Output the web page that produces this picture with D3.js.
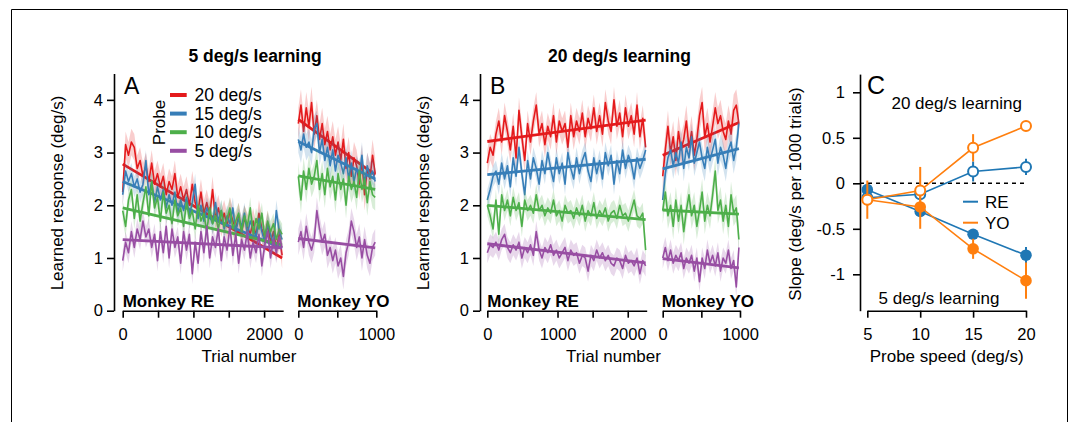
<!DOCTYPE html>
<html>
<head>
<meta charset="utf-8">
<script src="https://cdn.jsdelivr.net/npm/d3@7"></script>
<style>
  body { margin: 0; background: #fff; }
  svg { display: block; }
</style>
</head>
<body>
<svg id="fig" width="1078" height="422"></svg>
<script>
// ---------- Probe conditions ----------
const probeLabels = ["20 deg/s", "15 deg/s", "10 deg/s", "5 deg/s"];
const probeColors = ["#e41a1c", "#377eb8", "#4daf4a", "#984ea3"];

// Trial bins (start trial of each bin)
const trialsRE = d3.range(56).map(i => i * 41);
const trialsYO = d3.range(30).map(i => i * 34);

// ---------- A: 5 deg/s learning, learned response (deg/s) ----------
const redA_RE = [2.25,3.15,2.95,3.20,3.10,2.70,2.85,2.55,2.75,2.45,2.80,2.40,2.60,2.35,2.55,2.20,2.45,2.30,2.60,2.15,2.35,2.10,2.30,2.00,2.40,2.05,1.90,2.25,1.85,2.05,1.80,2.30,1.75,1.95,1.65,1.85,1.60,1.90,1.70,1.55,1.80,1.50,1.75,1.60,1.45,1.70,1.40,1.85,1.55,1.35,1.65,1.30,1.50,1.20,1.45,1.05];
const blueA_RE = [2.20,2.65,2.45,2.60,2.35,2.50,2.25,2.40,2.85,2.20,2.45,2.05,2.35,2.10,2.30,1.95,2.20,2.00,2.25,1.85,2.10,1.90,2.15,1.80,2.05,2.40,1.75,2.00,1.70,1.95,1.80,1.65,2.05,1.70,1.90,1.55,1.80,1.65,1.95,1.50,1.75,1.60,1.85,1.45,1.70,1.55,1.40,1.75,1.50,1.30,1.65,1.45,1.25,1.90,1.50,1.35];
const greenA_RE = [1.90,1.60,2.10,2.30,1.75,2.20,1.70,2.05,2.35,1.80,2.45,1.95,2.15,1.70,2.25,1.85,2.00,1.65,2.10,1.80,1.95,1.60,2.05,1.75,1.90,1.55,2.00,1.70,1.85,1.50,1.95,1.65,1.80,1.55,1.90,1.60,1.75,1.95,1.55,1.70,1.85,1.50,1.80,1.60,1.95,1.45,1.75,1.55,1.85,1.40,1.70,1.50,1.65,1.35,1.55,1.45];
const purpleA_RE = [0.95,1.30,1.10,1.50,1.20,1.55,1.35,1.70,1.40,1.55,1.20,1.45,0.95,1.50,1.10,1.60,1.00,1.55,1.20,1.40,0.90,1.50,1.15,1.45,0.70,1.30,0.90,1.50,1.10,1.60,1.00,1.40,1.20,1.55,0.95,1.40,1.15,1.60,1.05,1.45,0.90,1.35,1.15,1.50,1.00,1.30,1.10,1.45,0.85,1.25,1.50,1.00,1.35,1.10,1.40,1.20];
const redA_YO = [3.55,3.90,3.40,3.85,3.50,3.95,3.35,3.70,3.25,3.55,3.15,3.40,3.05,3.30,2.95,3.20,2.85,3.25,2.70,3.00,2.55,2.90,2.75,2.40,2.85,2.20,2.70,2.50,2.95,2.60];
const blueA_YO = [3.25,3.05,3.35,3.10,3.20,3.00,3.45,3.55,3.00,3.25,2.85,3.10,2.75,3.05,2.65,2.95,2.80,2.60,2.90,2.50,2.80,2.45,2.70,2.55,2.95,2.40,2.75,2.55,2.65,2.45];
const greenA_YO = [2.55,2.10,2.65,2.30,2.70,2.40,2.55,2.85,2.30,2.60,2.20,2.70,2.35,2.55,2.10,2.60,2.30,2.50,2.00,2.55,2.30,2.45,2.15,2.65,2.30,2.50,2.05,2.45,2.20,2.15];
const purpleA_YO = [1.30,1.50,1.20,1.60,1.30,1.15,1.35,1.90,1.55,1.30,1.45,1.05,1.20,0.95,1.15,0.85,1.00,0.65,1.10,1.30,1.70,1.50,1.20,1.40,1.00,1.35,1.05,0.90,1.20,1.30];
const semA_RE = [0.25, 0.20, 0.20, 0.20];
const semA_YO = [0.30, 0.25, 0.25, 0.25];
const fitStartA_RE = [2.78, 2.45, 1.95, 1.35];
const fitStartA_YO = [3.63, 3.21, 2.56, 1.37];

// ---------- B: 20 deg/s learning ----------
const redB_RE = [2.80,3.10,2.95,3.35,3.60,3.20,3.70,3.40,3.05,3.50,2.90,3.80,3.30,2.85,3.55,3.20,3.60,3.90,3.35,3.55,3.15,3.50,3.30,3.70,3.20,3.60,3.40,3.55,3.10,3.70,3.30,3.60,3.40,3.75,3.30,3.65,3.45,3.85,3.40,3.70,3.35,3.95,3.60,3.40,4.00,3.50,3.75,3.30,3.85,3.50,3.70,3.35,3.90,3.30,3.65,3.10];
const blueB_RE = [2.10,2.30,2.55,2.65,2.40,2.80,2.50,2.75,2.35,2.90,2.55,3.10,2.60,2.20,2.85,2.50,2.90,2.70,2.40,2.85,2.60,3.00,2.70,2.45,2.90,2.60,2.80,2.40,3.00,2.70,2.50,2.90,2.60,2.85,3.00,2.65,2.45,2.90,2.60,2.85,2.50,3.00,2.75,2.95,2.40,2.85,2.60,3.05,2.70,2.95,2.80,2.50,2.90,2.70,2.85,3.05];
const greenB_RE = [2.00,1.80,1.55,2.10,1.45,2.20,1.90,2.10,1.80,2.15,1.90,2.05,1.60,2.10,1.90,2.00,1.85,2.20,1.90,2.00,1.80,1.95,1.85,2.10,1.80,1.90,1.70,2.00,1.85,1.90,1.75,1.95,1.80,2.00,1.70,1.90,1.80,2.05,1.75,1.90,1.80,1.95,1.70,1.85,1.90,1.75,2.00,1.80,1.85,1.70,1.90,2.10,1.80,1.75,1.85,1.15];
const purpleB_RE = [1.10,1.25,1.20,1.30,1.15,1.35,1.45,1.20,1.10,1.25,1.15,1.30,1.00,1.20,1.10,1.25,1.05,1.50,1.15,1.00,1.20,1.10,1.25,1.05,1.15,1.00,1.10,1.20,0.95,1.15,1.05,1.10,0.90,1.05,1.00,0.75,1.05,0.95,1.15,1.00,1.10,0.95,1.05,0.90,0.85,1.00,0.95,0.80,1.05,0.90,0.95,0.85,1.00,0.70,0.95,0.85];
const redB_YO = [2.55,3.05,3.50,3.00,3.30,2.85,3.40,3.05,3.25,3.60,3.10,3.40,2.95,3.25,3.70,3.95,3.30,3.55,3.20,3.50,3.85,3.55,3.70,3.40,3.25,3.60,3.35,3.80,3.90,3.55];
const blueB_YO = [2.10,2.60,2.90,3.05,2.75,3.00,2.80,3.20,2.70,3.10,2.90,3.30,2.80,3.00,3.20,2.90,2.70,3.10,2.85,3.05,3.25,2.80,3.10,2.95,2.70,3.05,3.20,2.85,3.10,3.55];
const greenB_YO = [1.90,2.25,1.80,2.00,1.60,2.10,1.70,2.00,1.50,1.90,2.20,1.80,2.00,1.60,1.90,2.25,1.70,2.00,1.80,2.20,2.65,1.90,2.10,1.70,2.00,1.60,2.20,1.85,1.95,1.35];
const purpleB_YO = [1.00,1.20,0.95,1.15,0.90,1.05,0.95,1.10,0.80,1.00,0.90,1.05,0.75,1.00,0.55,1.00,0.80,1.15,0.90,1.05,0.85,1.10,0.75,1.00,0.90,1.15,0.80,0.95,0.45,1.20];
const semB_RE = [0.25, 0.20, 0.20, 0.20];
const semB_YO = [0.30, 0.25, 0.25, 0.20];
const fitStartB_RE = [3.21, 2.58, 2.00, 1.27];
const fitStartB_YO = [2.95, 2.69, 1.91, 0.99];

// ---------- C: slope of learned response (deg/s per 1000 trials) ----------
const probeSpeeds = [5, 10, 15, 20];
const slopeRE_5learn  = [-0.07, -0.31, -0.56, -0.79];
const errRE_5learn    = [0.05, 0.05, 0.05, 0.09];
const slopeYO_5learn  = [-0.18, -0.26, -0.72, -1.07];
const errYO_5learn    = [0.06, 0.24, 0.11, 0.20];
const slopeRE_20learn = [-0.16, -0.12, 0.13, 0.18];
const errRE_20learn   = [0.05, 0.05, 0.11, 0.09];
const slopeYO_20learn = [-0.18, -0.08, 0.39, 0.63];
const errYO_20learn   = [0.21, 0.26, 0.15, 0.05];
const monkeyLabels = ["RE", "YO"];
const monkeyColors = ["#1f77b4", "#ff7f0e"];

// ---------- drawing ----------
const FONT = "'Liberation Sans', Arial, Helvetica, sans-serif";
const svg = d3.select("#fig");

// frame
svg.append("path")
  .attr("d", "M11.5,422V9.5H1067.5V422")
  .attr("fill", "none").attr("stroke", "#000").attr("stroke-width", 1);

function styleAxis(g, fs) {
  g.attr("font-family", FONT).attr("font-size", fs);
  g.selectAll("path, line").attr("stroke", "#000").attr("stroke-width", 1.6);
  g.selectAll("text").attr("fill", "#000");
}

function addText(x, y, str, opts = {}) {
  const t = svg.append("text")
    .attr("x", x).attr("y", y)
    .attr("font-family", FONT)
    .attr("font-size", opts.size || 17)
    .attr("font-weight", opts.bold ? "bold" : "normal")
    .attr("text-anchor", opts.anchor || "start")
    .attr("fill", "#000")
    .text(str);
  if (opts.rotate) t.attr("transform", `rotate(-90,${x},${y})`);
  return t;
}

const yResp = d3.scaleLinear().domain([0, 4.5]).range([310.7, 73.5]);
const AXIS_Y = 310.7;

// slopes indexed by probe order (20,15,10,5)
const byProbe = arr => arr.slice().reverse();

function drawSeries(xScale, trials, series, sems, fitStarts, slopes) {
  series.forEach((vals, k) => {
    const color = probeColors[k];
    const pts = vals.map((v, i) => ({ t: trials[i], v }));
    const area = d3.area()
      .x(d => xScale(d.t))
      .y0(d => yResp(d.v - sems[k]))
      .y1(d => yResp(d.v + sems[k]));
    svg.append("path").datum(pts).attr("d", area)
      .attr("fill", color).attr("fill-opacity", 0.22).attr("stroke", "none");
    const line = d3.line().x(d => xScale(d.t)).y(d => yResp(d.v));
    svg.append("path").datum(pts).attr("d", line)
      .attr("fill", "none").attr("stroke", color).attr("stroke-width", 1.6)
      .attr("stroke-linejoin", "round");
    const t0 = trials[0], t1 = trials[trials.length - 1];
    const fit = [t0, t1].map(t => ({ t, v: fitStarts[k] + slopes[k] * (t - t0) / 1000 }));
    svg.append("path").datum(fit).attr("d", line)
      .attr("fill", "none").attr("stroke", color).attr("stroke-width", 2.8);
  });
}

function trialPanel(cfg) {
  // y axis
  const gy = svg.append("g").attr("transform", `translate(${cfg.axisX},0)`)
    .call(d3.axisLeft(yResp).tickValues([0, 1, 2, 3, 4]).tickSize(7).tickPadding(4)
      .tickSizeOuter(0).tickFormat(d3.format("d")));
  styleAxis(gy, 16.5);

  const xRE = d3.scaleLinear().domain([0, 2270]).range(cfg.reRange);
  const xYO = d3.scaleLinear().domain([0, 1000]).range(cfg.yoRange);

  const gx1 = svg.append("g").attr("transform", `translate(0,${AXIS_Y})`)
    .call(d3.axisBottom(xRE).tickValues([0, 500, 1000, 1500, 2000]).tickSize(7).tickPadding(11)
      .tickSizeOuter(0).tickFormat(d => d % 1000 === 0 ? d : ""));
  styleAxis(gx1, 16.5);
  const gx2 = svg.append("g").attr("transform", `translate(0,${AXIS_Y})`)
    .call(d3.axisBottom(xYO).tickValues([0, 500, 1000]).tickSize(7).tickPadding(11)
      .tickSizeOuter(0).tickFormat(d => d % 1000 === 0 ? d : ""));
  styleAxis(gx2, 16.5);

  drawSeries(xRE, trialsRE, cfg.re, cfg.semRE, cfg.fitRE, cfg.slopeRE);
  drawSeries(xYO, trialsYO, cfg.yo, cfg.semYO, cfg.fitYO, cfg.slopeYO);

  addText(cfg.reRange[0], 306.5, "Monkey RE", { bold: true });
  addText(cfg.yoRange[0] - 1, 306.5, "Monkey YO", { bold: true });
  addText(cfg.labelCenter, 362, "Trial number", { anchor: "middle" });
  addText(cfg.labelCenter + 6, 61.5, cfg.title, { bold: true, anchor: "middle", size: 17.5 });
  addText(cfg.axisX - 51, 193, "Learned response (deg/s)", { anchor: "middle", rotate: true });
  addText(cfg.axisX + 10, 93.5, cfg.letter, { size: 23 });
}

trialPanel({
  axisX: 114, reRange: [122.7, 283.2], yoRange: [298.3, 376.3],
  re: [redA_RE, blueA_RE, greenA_RE, purpleA_RE],
  yo: [redA_YO, blueA_YO, greenA_YO, purpleA_YO],
  semRE: semA_RE, semYO: semA_YO,
  fitRE: fitStartA_RE, fitYO: fitStartA_YO,
  slopeRE: byProbe(slopeRE_5learn), slopeYO: byProbe(slopeYO_5learn),
  labelCenter: 249, title: "5 deg/s learning", letter: "A"
});

trialPanel({
  axisX: 480, reRange: [487.3, 646.7], yoRange: [662.7, 740],
  re: [redB_RE, blueB_RE, greenB_RE, purpleB_RE],
  yo: [redB_YO, blueB_YO, greenB_YO, purpleB_YO],
  semRE: semB_RE, semYO: semB_YO,
  fitRE: fitStartB_RE, fitYO: fitStartB_YO,
  slopeRE: byProbe(slopeRE_20learn), slopeYO: byProbe(slopeYO_20learn),
  labelCenter: 613.5, title: "20 deg/s learning", letter: "B"
});

// probe legend in A
probeLabels.forEach((lab, k) => {
  const yy = 95 + k * 18.6;
  svg.append("line").attr("x1", 170).attr("x2", 186.7).attr("y1", yy).attr("y2", yy)
    .attr("stroke", probeColors[k]).attr("stroke-width", 4);
  addText(194.5, yy + 6, lab, { size: 17.5 });
});
addText(164.5, 122.5, "Probe", { anchor: "middle", rotate: true });

// ---------- panel C ----------
const xC = d3.scaleLinear().domain([5, 20]).range([867.3, 1026]);
const yC = d3.scaleLinear().domain([-1.4, 1.2]).range([310.7, 74.1]);

const gyC = svg.append("g").attr("transform", "translate(860,0)")
  .call(d3.axisLeft(yC).tickValues([-1, -0.5, 0, 0.5, 1]).tickSize(7).tickPadding(8).tickSizeOuter(0)
    .tickFormat(d => String(d)));
styleAxis(gyC, 16.5);
const gxC = svg.append("g").attr("transform", `translate(0,${AXIS_Y})`)
  .call(d3.axisBottom(xC).tickValues(probeSpeeds).tickSize(7).tickPadding(11).tickSizeOuter(0));
styleAxis(gxC, 16.5);

svg.append("line").attr("x1", 860).attr("x2", 1026).attr("y1", yC(0)).attr("y2", yC(0))
  .attr("stroke", "#000").attr("stroke-width", 1.4).attr("stroke-dasharray", "4,4");

const cSeries = [
  { vals: slopeRE_5learn,  errs: errRE_5learn,  color: monkeyColors[0], open: false },
  { vals: slopeRE_20learn, errs: errRE_20learn, color: monkeyColors[0], open: true },
  { vals: slopeYO_5learn,  errs: errYO_5learn,  color: monkeyColors[1], open: false },
  { vals: slopeYO_20learn, errs: errYO_20learn, color: monkeyColors[1], open: true }
];
cSeries.forEach(s => {
  const pts = s.vals.map((v, i) => ({ x: probeSpeeds[i], v, e: s.errs[i] }));
  svg.append("path").datum(pts)
    .attr("d", d3.line().x(d => xC(d.x)).y(d => yC(d.v)))
    .attr("fill", "none").attr("stroke", s.color).attr("stroke-width", 1.6);
  svg.selectAll(null).data(pts).enter().append("line")
    .attr("x1", d => xC(d.x)).attr("x2", d => xC(d.x))
    .attr("y1", d => yC(d.v - d.e)).attr("y2", d => yC(d.v + d.e))
    .attr("stroke", s.color).attr("stroke-width", 2);
  svg.selectAll(null).data(pts).enter().append("circle")
    .attr("cx", d => xC(d.x)).attr("cy", d => yC(d.v)).attr("r", s.open ? 5 : 5.8)
    .attr("fill", s.open ? "#fff" : s.color)
    .attr("stroke", s.color).attr("stroke-width", s.open ? 2 : 0);
});

monkeyLabels.forEach((lab, k) => {
  const yy = 201.7 + k * 21;
  svg.append("line").attr("x1", 963).attr("x2", 978).attr("y1", yy).attr("y2", yy)
    .attr("stroke", monkeyColors[k]).attr("stroke-width", 2);
  addText(985, yy + 6.2, lab);
});

addText(956.7, 108.5, "20 deg/s learning", { anchor: "middle" });
addText(939, 303.5, "5 deg/s learning", { anchor: "middle" });
addText(867, 93.5, "C", { size: 25 });
addText(800.5, 194, "Slope (deg/s per 1000 trials)", { anchor: "middle", rotate: true });
addText(946.7, 362, "Probe speed (deg/s)", { anchor: "middle" });
</script>
</body>
</html>
